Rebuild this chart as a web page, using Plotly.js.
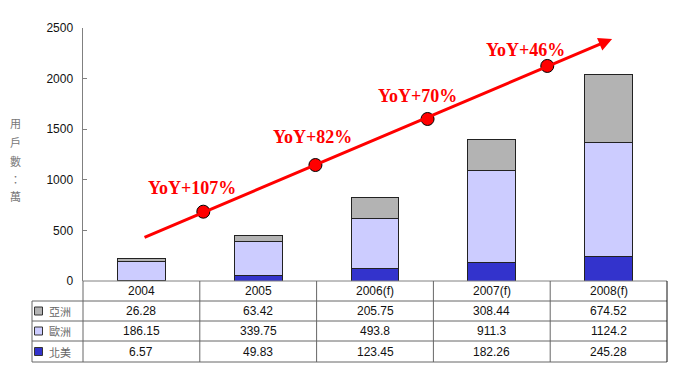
<!DOCTYPE html>
<html><head><meta charset="utf-8">
<script src="https://cdn.plot.ly/plotly-3.0.1.min.js"></script>
<style>html,body{margin:0;padding:0;background:#fff;} #chart{width:684px;height:375px;}</style>
</head><body><div id="chart"></div>
<script>
// ---- data ----
const categories = ['2004', '2005', '2006(f)', '2007(f)', '2008(f)'];
const seriesNames = ['亞洲', '歐洲', '北美'];
const asia = [26.28, 63.42, 205.75, 308.44, 674.52];
const europe = [186.15, 339.75, 493.8, 911.3, 1124.2];
const northAmerica = [6.57, 49.83, 123.45, 182.26, 245.28];
const yTickVals = [0, 500, 1000, 1500, 2000, 2500];
const yTitle = '用戶數：萬';
const yoyLabels = ['YoY+107%', 'YoY+82%', 'YoY+70%', 'YoY+46%'];
const trendX = [0.53, 1.49, 2.45, 3.475];
const trendY = [685, 1146, 1601, 2125];
const trendStartX = 0.014, trendStartY = 425;
const trendEndX = 4.03, trendEndY = 2391;

// ---- styling / layout helpers ----
const colors = ['#b3b3b3', '#ccccff', '#3333cc'];
const W = 684, H = 375, L = 83, R = 667, T = 28, B = 281;
const px = p => (p - L) / (R - L);
const py = p => (B - p) / (B - T);
const idx = categories.map((c, i) => i);
const colX = i => (i + 0.5) / categories.length;

const traces = [];
const stackOrder = [[northAmerica, 2], [europe, 1], [asia, 0]];
stackOrder.forEach(([vals, k]) => {
  traces.push({
    type: 'bar', x: idx, y: vals, name: seriesNames[k], width: 0.41,
    marker: {color: colors[k], line: {color: '#222', width: 1}},
    hoverinfo: 'skip'
  });
});
traces.push({
  type: 'scatter', mode: 'markers', x: trendX, y: trendY,
  marker: {size: 13, color: '#ff0000', line: {color: '#000', width: 1}},
  hoverinfo: 'skip', cliponaxis: false
});

const shapes = [];
const annotations = [];
const gridColor = '#666';
// arrow
annotations.push({
  x: trendEndX, y: trendEndY, ax: trendStartX, ay: trendStartY,
  xref: 'x', yref: 'y', axref: 'x', ayref: 'y',
  text: '', showarrow: true, arrowhead: 2, arrowsize: 0.9, arrowwidth: 3,
  arrowcolor: '#ff0000', standoff: 0, startstandoff: 0
});
const labelShift = [[-11, 24], [-3, 28], [-10, 23], [-22, 16]];
yoyLabels.forEach((t, i) => {
  annotations.push({
    x: trendX[i], y: trendY[i], xref: 'x', yref: 'y', text: t, showarrow: false,
    xanchor: 'center', yanchor: 'middle',
    xshift: labelShift[i][0], yshift: labelShift[i][1],
    font: {family: '"Liberation Serif", "Times New Roman", serif', size: 18, color: '#ff0000', weight: 'bold'}
  });
});
// y title (vertical chars)
const titleY = [123, 142, 161, 179, 196];
Array.from(yTitle).forEach((ch, i) => {
  annotations.push({
    x: px(15), y: py(titleY[i]), xref: 'paper', yref: 'paper', text: ch, showarrow: false,
    xanchor: 'center', yanchor: 'middle',
    font: {family: '"Noto Sans CJK TC", sans-serif', size: 11, color: '#777'}
  });
});
// table grid
const rowLines = [301, 321, 341, 362];
shapes.push({type: 'line', xref: 'paper', yref: 'paper', x0: 0, x1: 1, y0: py(281), y1: py(281), line: {color: '#808080', width: 1}});
rowLines.forEach(r => shapes.push({type: 'line', xref: 'paper', yref: 'paper', x0: px(32), x1: 1, y0: py(r), y1: py(r), line: {color: gridColor, width: 1}}));
shapes.push({type: 'line', xref: 'paper', yref: 'paper', x0: 0, x1: 0, y0: py(281), y1: py(362), line: {color: gridColor, width: 1}});
shapes.push({type: 'line', xref: 'paper', yref: 'paper', x0: px(32), x1: px(32), y0: py(301), y1: py(362), line: {color: gridColor, width: 1}});
categories.forEach((c, i) => {
  const xb = (i + 1) / categories.length;
  shapes.push({type: 'line', xref: 'paper', yref: 'paper', x0: xb, x1: xb, y0: py(281), y1: py(362),
    line: {color: i === categories.length - 1 ? '#111' : gridColor, width: 1}});
});
// table text
const tableFont = {family: 'Arial, "Liberation Sans", sans-serif', size: 12, color: '#111'};
const rowCenters = [291, 311, 331, 351.5];
categories.forEach((c, i) => {
  annotations.push({x: colX(i), y: py(rowCenters[0]), xref: 'paper', yref: 'paper', text: c, showarrow: false,
    xanchor: 'center', yanchor: 'middle', font: tableFont});
});
[asia, europe, northAmerica].forEach((vals, r) => {
  vals.forEach((v, i) => {
    annotations.push({x: colX(i), y: py(rowCenters[r + 1]), xref: 'paper', yref: 'paper', text: String(v), showarrow: false,
      xanchor: 'center', yanchor: 'middle', font: tableFont});
  });
  // legend key
  const yc = rowCenters[r + 1];
  shapes.push({type: 'rect', xref: 'paper', yref: 'paper', x0: px(34.5), x1: px(42.5), y0: py(yc + 4), y1: py(yc - 4),
    fillcolor: colors[r], line: {color: '#333', width: 1}});
  annotations.push({x: px(47), y: py(yc), xref: 'paper', yref: 'paper', xanchor: 'left', yanchor: 'middle', text: seriesNames[r], showarrow: false,
    font: {family: '"Noto Sans CJK TC", sans-serif', size: 11, color: '#666'}});
});

const layout = {
  width: W, height: H,
  margin: {l: L, r: W - R, t: T, b: H - B, pad: 0},
  paper_bgcolor: '#fff', plot_bgcolor: '#fff',
  barmode: 'stack', showlegend: false,
  xaxis: {range: [-0.5, categories.length - 0.5], showticklabels: false, showgrid: false, zeroline: false, showline: false, ticks: '', fixedrange: true},
  yaxis: {range: [0, 2500], tickvals: yTickVals, showgrid: false, zeroline: false, showline: true,
    linecolor: '#808080', linewidth: 1.5, ticks: 'inside', ticklen: 4, tickcolor: '#808080',
    tickfont: {family: 'Arial, "Liberation Sans", sans-serif', size: 12, color: '#111'}, ticklabelstandoff: 6, fixedrange: true},
  shapes: shapes, annotations: annotations
};
Plotly.newPlot('chart', traces, layout, {staticPlot: true});
</script>
</body></html>
